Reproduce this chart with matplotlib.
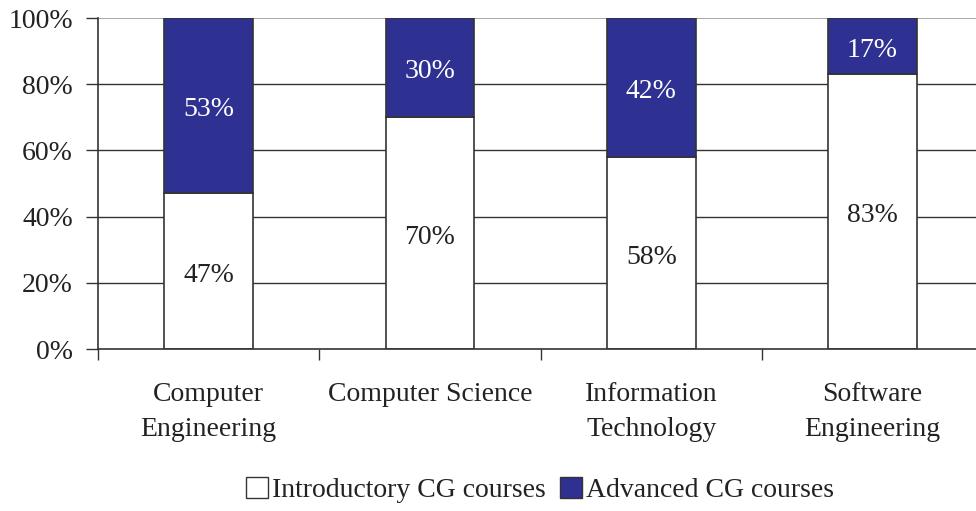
import numpy as np
import matplotlib.pyplot as plt
from matplotlib.patches import Patch

plt.rcParams['font.family'] = ['Liberation Serif', 'DejaVu Serif']

categories = ["Computer\nEngineering", "Computer Science",
              "Information\nTechnology", "Software\nEngineering"]
intro = [47, 70, 58, 83]
advanced = [53, 30, 42, 17]

blue = "#2e3192"
fs = 20

fig = plt.figure(figsize=(9.76, 5.11), dpi=100)
ax = fig.add_axes([98/976, 1 - 349/511, 1 - 98/976, 331/511])

x = np.arange(len(categories))
ax.bar(x, intro, width=0.4, color="white", edgecolor="#333333", linewidth=1.2, zorder=3)
ax.bar(x, advanced, bottom=intro, width=0.4, color=blue, edgecolor="#333333", linewidth=1.2, zorder=3)

# value labels, nudged down a little like the original
for i in range(len(categories)):
    ax.annotate(f"{intro[i]}%", (x[i], intro[i] / 2), xytext=(0, -3), textcoords="offset points",
                ha="center", va="center", fontsize=fs, color="#222222", zorder=4)
    ax.annotate(f"{advanced[i]}%", (x[i], intro[i] + advanced[i] / 2), xytext=(0, -3),
                textcoords="offset points", ha="center", va="center", fontsize=fs,
                color="white", zorder=4)

ax.set_xlim(-0.5, -0.5 + 878 / 221.3)
ax.set_ylim(0, 100)

# grid lines
for yv in [20, 40, 60, 80]:
    ax.axhline(yv, color="#333333", linewidth=1.0, zorder=1)
ax.axhline(100, color="#aaaaaa", linewidth=1.5, zorder=1)

ax.set_yticks([0, 20, 40, 60, 80, 100])
ax.set_yticklabels([f"{v}%" for v in [0, 20, 40, 60, 80, 100]], fontsize=fs, color="#222222")
ax.tick_params(axis="y", length=9, width=1.0, color="#333333", pad=9)

ax.set_xticks(x)
ax.set_xticklabels(categories, fontsize=fs, color="#222222", linespacing=1.5)
ax.tick_params(axis="x", which="major", length=0, pad=24)
ax.set_xticks([-0.5, 0.5, 1.5, 2.5], minor=True)
ax.tick_params(axis="x", which="minor", length=8, width=1.0, color="#333333")

for s in ["top", "right"]:
    ax.spines[s].set_visible(False)
for s in ["left", "bottom"]:
    ax.spines[s].set_color("#333333")
    ax.spines[s].set_linewidth(1.2)
    ax.spines[s].set_zorder(5)

handles = [Patch(facecolor="white", edgecolor="#333333", label="Introductory CG courses"),
           Patch(facecolor=blue, edgecolor="#333333", label="Advanced CG courses")]
fig.legend(handles=handles, loc="center", bbox_to_anchor=(540/976, 1 - 490/511), ncol=2,
           frameon=False, fontsize=fs, handlelength=0.8, handleheight=0.8,
           handletextpad=0.15, columnspacing=0.5, labelcolor="#222222")

fig.savefig("out.png", dpi=100)
